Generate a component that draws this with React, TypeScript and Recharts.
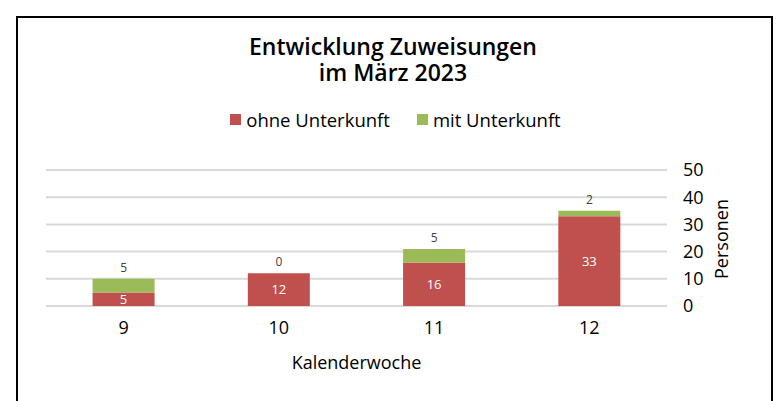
import { BarChart, Bar, XAxis, YAxis, CartesianGrid, Legend, LabelList } from "recharts";

// Zuweisungen je Kalenderwoche
const weeks = ["9", "10", "11", "12"];
const ohneUnterkunft = [5, 12, 16, 33];
const mitUnterkunft = [5, 0, 5, 2];
const yTicks = [0, 10, 20, 30, 40, 50];
const seriesOrder = ["ohne Unterkunft", "mit Unterkunft"];
const titleLines = ["Entwicklung Zuweisungen", "im März 2023"];

const data = weeks.map((w, i) => ({
  week: w,
  ohne: ohneUnterkunft[i],
  mit: mitUnterkunft[i],
}));

const font = "'Open Sans', 'Noto Sans', sans-serif";

function LegendContent(props: any) {
  const items = [...(props.payload || [])].sort(
    (a: any, b: any) => seriesOrder.indexOf(a.value) - seriesOrder.indexOf(b.value)
  );
  return (
    <div style={{ display: "flex", justifyContent: "center", gap: 27, fontFamily: font, fontSize: 18.5, color: "#000" }}>
      {items.map((it: any) => (
        <div key={it.value} style={{ display: "flex", alignItems: "center" }}>
          <span style={{ width: 11, height: 11, background: it.color, display: "inline-block", marginRight: 5 }} />
          <span>{it.value}</span>
        </div>
      ))}
    </div>
  );
}

// green value above the stack; hung off the red bar so that a 0 still shows
function TopLabel(props: any) {
  const { x, y, width, height, index } = props;
  if (x == null || y == null) return null;
  const pxPerUnit = height / ohneUnterkunft[index];
  const top = y - mitUnterkunft[index] * pxPerUnit;
  return (
    <text x={x + width / 2} y={top - 7} textAnchor="middle" fill="#404040" fontSize={12} fontFamily={font}>
      {mitUnterkunft[index]}
    </text>
  );
}

export default function App() {
  return (
    <div>
      <div
        style={{
          position: "absolute",
          left: 16,
          top: 16,
          width: 757,
          height: 400,
          border: "2px solid #000",
          borderBottom: "none",
          boxSizing: "border-box",
        }}
      />
      {titleLines.map((t, i) => (
        <div
          key={t}
          style={{
            position: "absolute",
            left: 0,
            top: 35 + i * 26,
            width: 786,
            height: 22,
            textAlign: "center",
            fontFamily: font,
            fontWeight: 600,
            fontSize: 23,
            lineHeight: "22px",
            color: "#000",
          }}
        >
          {t}
        </div>
      ))}
      <div style={{ position: "absolute", left: 0, top: 0 }}>
        <BarChart
          width={779}
          height={401}
          data={data}
          margin={{ top: 170, right: 52, left: 46, bottom: 65 }}
          barCategoryGap="30%"
        >
          <CartesianGrid vertical={false} stroke="#D9D9D9" strokeWidth={2} />
          <Legend
            verticalAlign="middle"
            content={<LegendContent />}
            wrapperStyle={{ top: 107, left: 6, width: 779 }}
          />
          <XAxis
            dataKey="week"
            axisLine={false}
            tickLine={false}
            tickSize={0}
            tickMargin={15}
            height={30}
            interval={0}
            tick={{ fill: "#000", fontSize: 18, fontFamily: font }}
            label={(p: any) => {
              const vb = p.viewBox;
              return (
                <text x={vb.x + vb.width / 2} y={vb.y + 63} textAnchor="middle" fill="#000" fontSize={18} fontFamily={font}>
                  Kalenderwoche
                </text>
              );
            }}
          />
          <YAxis
            orientation="right"
            domain={[0, 50]}
            ticks={yTicks}
            interval={0}
            axisLine={false}
            tickLine={false}
            tickSize={0}
            tickMargin={16}
            width={60}
            tick={{ fill: "#000", fontSize: 18, fontFamily: font }}
            label={(p: any) => {
              const vb = p.viewBox;
              const x = vb.x + 61;
              const y = vb.y + vb.height / 2 + 1;
              return (
                <text x={x} y={y} transform={`rotate(-90 ${x} ${y})`} textAnchor="middle" fill="#000" fontSize={18} fontFamily={font}>
                  Personen
                </text>
              );
            }}
          />
          <Bar dataKey="ohne" name="ohne Unterkunft" stackId="a" fill="#C0504D" isAnimationActive={false}>
            <LabelList dataKey="ohne" position="center" fill="#fff" fontSize={13} fontFamily={font} />
            <LabelList dataKey="mit" content={<TopLabel />} />
          </Bar>
          <Bar dataKey="mit" name="mit Unterkunft" stackId="a" fill="#9BBB59" isAnimationActive={false} />
        </BarChart>
      </div>
    </div>
  );
}
